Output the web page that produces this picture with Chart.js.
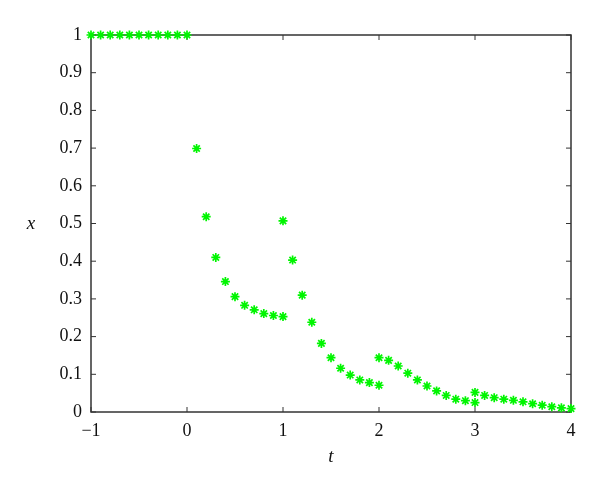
<!DOCTYPE html>
<html>
<head>
<meta charset="utf-8">
<script src="https://cdn.jsdelivr.net/npm/chart.js@4/dist/chart.umd.min.js"></script>
<style>
  html, body { margin: 0; padding: 0; background: #fff; }
  canvas { display: block; }
</style>
</head>
<body>
<canvas id="chart" width="600" height="490"></canvas>
<script>
// t values (duplicates at 1, 2, 3 where the solution jumps)
const tValues = [
  -1, -0.9, -0.8, -0.7, -0.6, -0.5, -0.4, -0.3, -0.2, -0.1, 0,
  0.1, 0.2, 0.3, 0.4, 0.5, 0.6, 0.7, 0.8, 0.9, 1,
  1, 1.1, 1.2, 1.3, 1.4, 1.5, 1.6, 1.7, 1.8, 1.9, 2,
  2, 2.1, 2.2, 2.3, 2.4, 2.5, 2.6, 2.7, 2.8, 2.9, 3,
  3, 3.1, 3.2, 3.3, 3.4, 3.5, 3.6, 3.7, 3.8, 3.9, 4
];
const xValues = [
  1, 1, 1, 1, 1, 1, 1, 1, 1, 1, 1,
  0.699, 0.518, 0.410, 0.346, 0.306, 0.283, 0.271, 0.261, 0.256, 0.253,
  0.507, 0.403, 0.310, 0.238, 0.182, 0.144, 0.116, 0.098, 0.085, 0.078, 0.071,
  0.144, 0.137, 0.122, 0.103, 0.085, 0.069, 0.056, 0.044, 0.034, 0.030, 0.025,
  0.052, 0.044, 0.038, 0.034, 0.031, 0.027, 0.022, 0.018, 0.014, 0.011, 0.009
];
const xTicks = [-1, 0, 1, 2, 3, 4];
const yTicks = [0, 0.1, 0.2, 0.3, 0.4, 0.5, 0.6, 0.7, 0.8, 0.9, 1];
const xLabel = 't';
const yLabel = 'x';

const points = tValues.map((t, i) => ({ x: t, y: xValues[i] }));
const axisColor = '#333333';
const tickFont = { family: '"Liberation Serif", serif', size: 18 };

// frame with inward ticks, plus the axis letters
const framePlugin = {
  id: 'frame',
  beforeDatasetsDraw(chart) {
    const { ctx, chartArea: a, scales } = chart;
    ctx.save();
    ctx.strokeStyle = axisColor;
    ctx.lineWidth = 1.5;
    ctx.strokeRect(a.left, a.top, a.right - a.left, a.bottom - a.top);
    ctx.lineWidth = 1;
    const len = 5;
    ctx.beginPath();
    xTicks.forEach(v => {
      const px = scales.x.getPixelForValue(v);
      ctx.moveTo(px, a.bottom); ctx.lineTo(px, a.bottom - len);
      ctx.moveTo(px, a.top); ctx.lineTo(px, a.top + len);
    });
    yTicks.forEach(v => {
      const py = scales.y.getPixelForValue(v);
      ctx.moveTo(a.left, py); ctx.lineTo(a.left + len, py);
      ctx.moveTo(a.right, py); ctx.lineTo(a.right - len, py);
    });
    ctx.stroke();

    ctx.fillStyle = '#111';
    ctx.font = 'italic 19px "Liberation Serif", serif';
    ctx.textAlign = 'center';
    ctx.textBaseline = 'middle';
    ctx.fillText(xLabel, (a.left + a.right) / 2, 457);
    ctx.fillText(yLabel, 31, (a.top + a.bottom) / 2);
    ctx.restore();
  }
};

new Chart(document.getElementById('chart'), {
  type: 'scatter',
  data: {
    datasets: [{
      data: points,
      pointStyle: 'star',
      pointRadius: 4.5,
      pointBorderWidth: 1.7,
      borderColor: '#00f500',
      backgroundColor: '#00f500'
    }]
  },
  options: {
    responsive: false,
    animation: false,
    clip: false,
    layout: { padding: { left: 0, top: 35, right: 29, bottom: 0 } },
    plugins: { legend: { display: false }, tooltip: { enabled: false } },
    scales: {
      x: {
        type: 'linear', min: -1, max: 4,
        afterBuildTicks: s => { s.ticks = xTicks.map(v => ({ value: v })); },
        afterFit: s => { s.height = 78; },
        grid: { display: false, drawTicks: false },
        border: { display: false },
        ticks: {
          padding: 8, color: '#111', font: tickFont,
          callback: v => v < 0 ? '\u2212' + Math.abs(v) : String(v)
        }
      },
      y: {
        type: 'linear', min: 0, max: 1,
        afterBuildTicks: s => { s.ticks = yTicks.map(v => ({ value: v })); },
        afterFit: s => { s.width = 91; },
        grid: { display: false, drawTicks: false },
        border: { display: false },
        ticks: {
          padding: 9, color: '#111', font: tickFont,
          callback: v => String(Math.round(v * 10) / 10)
        }
      }
    }
  },
  plugins: [framePlugin]
});
</script>
</body>
</html>
